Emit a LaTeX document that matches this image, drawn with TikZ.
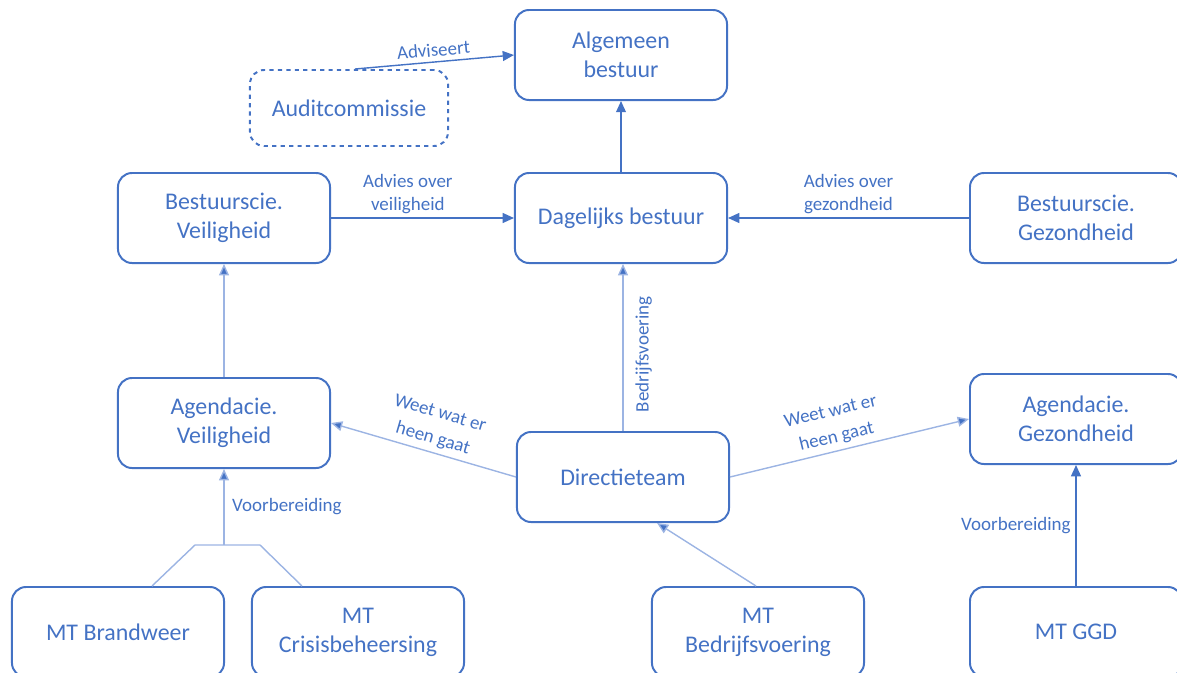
\documentclass[tikz,border=0pt]{standalone}
\usepackage{fontspec}
\setmainfont{Carlito}
\usepackage{tikz}
\usetikzlibrary{arrows.meta}

\definecolor{orgblue}{HTML}{4472C4}
\definecolor{orglight}{HTML}{9CB4E3}

\tikzset{
  orgbox/.style={draw=orgblue, line width=1.4pt, rounded corners=10pt,
    minimum width=5.3cm, minimum height=2.25cm, align=center,
    text=orgblue, font=\fontsize{17}{20.5}\selectfont},
  lbl/.style={text=orgblue, align=center, font=\fontsize{13.5}{16.5}\selectfont},
  widelbl/.style={lbl, font=\fontsize{13.5}{18.5}\selectfont},
  flow/.style={draw=orgblue, line width=1pt, -{Triangle[length=8pt,width=7pt]}},
  thinflow/.style={draw=orglight, line width=1pt, -{Triangle[length=8pt,width=7pt,fill=orgblue]}}
}

\begin{document}
\begin{tikzpicture}[x=0.025cm, y=-0.025cm]
  \useasboundingbox (0,0) rectangle (1177,672);
  % boxes, top row
  \node[orgbox] (alg) at (621,55) {Algemeen\\bestuur};
  \node[orgbox, dashed, minimum width=4.95cm, minimum height=1.9cm] (audit) at (349,108) {Auditcommissie};
  % middle rows
  \node[orgbox] (bsV) at (224,218) {Bestuurscie.\\Veiligheid};
  \node[orgbox] (dag) at (621,218) {Dagelijks bestuur};
  \node[orgbox] (bsG) at (1076,218) {Bestuurscie.\\Gezondheid};
  \node[orgbox] (agV) at (224,423) {Agendacie.\\Veiligheid};
  \node[orgbox] (dir) at (623,477) {Directieteam};
  \node[orgbox] (agG) at (1076,419) {Agendacie.\\Gezondheid};
  % bottom row
  \node[orgbox] (brw) at (118,632) {MT Brandweer};
  \node[orgbox] (cri) at (358,632) {MT\\Crisisbeheersing};
  \node[orgbox] (bdv) at (758,632) {MT\\Bedrijfsvoering};
  \node[orgbox] (ggd) at (1076,632) {MT GGD};

  % connectors
  \draw[flow] ([xshift=0.15cm]audit.north) -- (alg.west)
    node[lbl, midway, sloped, above] {Adviseert};
  \draw[flow] (dag.north) -- (alg.south);
  \draw[flow] (bsV.east) -- (dag.west)
    node[lbl, pos=0.42, above=-1pt] {Advies over\\veiligheid};
  \draw[flow] (bsG.west) -- (dag.east)
    node[lbl, midway, above=-1pt] {Advies over\\gezondheid};
  \draw[thinflow] (agV.north) -- (bsV.south);
  \draw[thinflow] (dir.north) -- (dir.north |- dag.south)
    node[lbl, pos=0.46, sloped, below=5pt] {Bedrijfsvoering};
  \draw[thinflow] (dir.west) -- (agV.east)
    node[widelbl, pos=0.47, sloped, above] {Weet wat er\\heen gaat};
  \draw[thinflow] (dir.east) -- (agG.west)
    node[widelbl, pos=0.46, sloped, above] {Weet wat er\\heen gaat};
  \draw[thinflow] ([xshift=-0.05cm]bdv.north) -- ([xshift=0.85cm]dir.south);
  \draw[flow] (ggd.north) -- (agG.south)
    node[lbl, midway, left] {Voorbereiding};
  % merge of the two MT boxes
  \coordinate (jl) at (195,545);
  \coordinate (jm) at (224,545);
  \coordinate (jr) at (260,545);
  \draw[draw=orglight, line width=1pt] ([xshift=0.85cm]brw.north) -- (jl) -- (jr) -- ([xshift=-1.4cm]cri.north);
  \draw[thinflow] (jm) -- (agV.south)
    node[lbl, midway, right, xshift=2pt] {Voorbereiding};
\end{tikzpicture}
\end{document}
